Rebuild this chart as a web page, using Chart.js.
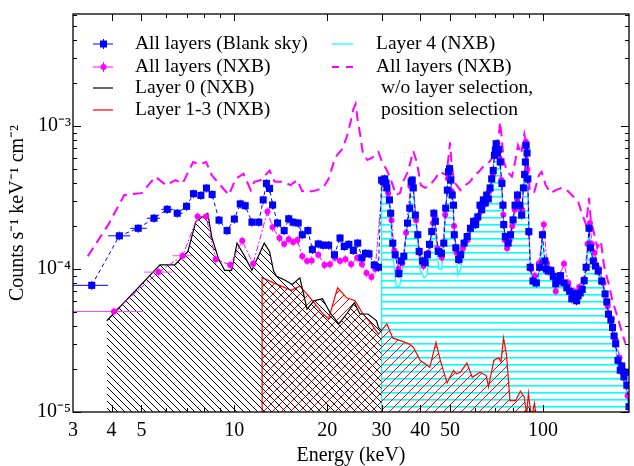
<!DOCTYPE html>
<html><head><meta charset="utf-8">
<script src="https://cdn.jsdelivr.net/npm/chart.js@4.4.1/dist/chart.umd.min.js"></script>
<style>html,body{margin:0;padding:0;background:#fff;}#wrap{position:relative;width:634px;height:466px;}</style>
</head><body><div id="wrap"><canvas id="c" width="634" height="466"></canvas></div>
<script>
// ---- tick labels ----
const xTickValues = [3,4,5,10,20,30,40,50,100];
const xMinorTicks = [6,7,8,9,60,70,80,90];
const yTickValues = [1e-5,1e-4,1e-3];
const yTickLabels = ['10\u207B\u2075','10\u207B\u2074','10\u207B\u00B3'];
const xTitle = 'Energy (keV)';
const yTitle = 'Counts s\u207B\u00B9 keV\u207B\u00B9 cm\u207B\u00B2';
const legendLabels = ['All layers (Blank sky)','All layers (NXB)','Layer 0 (NXB)','Layer 1-3 (NXB)','Layer 4 (NXB)','All layers (NXB)',' w/o layer selection,',' position selection'];

// ---- All layers (Blank sky) ----
const blueE = [3.45,4.24,4.88,5.49,6.06,6.53,7.0,7.37,7.79,8.12,8.47,8.92,9.47,10.0,10.45,10.84,11.4,12.0,12.4,12.7,13.0,13.3,13.8,14.5,15.0,15.5,16.1,16.6,17.3,17.9,18.7,19.4,20.2,21.1,22.0,22.7,23.5,24.3,25.1,25.9,26.6,27.3,28.4,29.3,
30.0,30.4,30.7,31.0,31.2,31.8,32.1,32.6,33.2,34.1,34.7,35.4,36.4,37.0,37.4,37.7,38.0,38.6,39.3,39.7,40.7,41.5,42.2,42.9,43.6,44.3,44.8,45.8,46.9,47.7,48.4,49.0,49.4,49.8,50.3,50.8,51.3,51.6,52.2,53.3,54.1,55.5,56.8,58.2,59.6,60.5,61.5,62.5,63.3,64.1,65.0,65.7,66.5,67.4,68.2,69.0,69.6,70.1,70.5,71.2,71.8,72.7,73.6,74.2,74.6,75.5,77.1,78.5,80.0,81.2,82.7,84.2,85.3,86.4,87.2,87.7,88.2,88.8,89.3,90.0,90.9,92.8,95.2,97.6,99.6,101.4,102.5,104,106,108,110,112.5,114,117,119.5,122,124,127,128.5,130,132,134,136,138,141,142.5,145.5,148,151,155,159,161,163,166,168,170,172,175,178,180,183,185,187,190];
const blueV = [7.7e-5,1.71e-4,1.93e-4,2.27e-4,2.62e-4,2.46e-4,2.75e-4,3.37e-4,3.28e-4,3.69e-4,3.33e-4,2.2e-4,1.86e-4,2.24e-4,2.86e-4,2.78e-4,2.13e-4,2.13e-4,3.05e-4,3.98e-4,3.67e-4,2.81e-4,2.1e-4,1.86e-4,2.25e-4,2.13e-4,2.1e-4,1.74e-4,1.86e-4,1.37e-4,1.5e-4,1.47e-4,1.47e-4,1.26e-4,1.65e-4,1.44e-4,1.49e-4,1.35e-4,1.52e-4,1.2e-4,1.29e-4,1.28e-4,1.07e-4,1.03e-4,
4.2e-4,4.1e-4,4.28e-4,4.0e-4,3.7e-4,3.05e-4,2.46e-4,1.52e-4,1.26e-4,9.3e-5,1.14e-4,1.23e-4,2.1e-4,2.67e-4,4.08e-4,4.2e-4,3.7e-4,2.39e-4,1.74e-4,1.33e-4,1.14e-4,1.11e-4,1.26e-4,1.49e-4,1.83e-4,2.46e-4,2.16e-4,1.33e-4,1.29e-4,1.52e-4,2.67e-4,3.57e-4,4.8e-4,5.05e-4,4.2e-4,3.3e-4,2.8e-4,1.74e-4,1.41e-4,1.17e-4,1.26e-4,1.52e-4,1.69e-4,1.93e-4,2.16e-4,2.05e-4,2.32e-4,2.8e-4,2.6e-4,3.05e-4,2.9e-4,3.3e-4,3.1e-4,3.7e-4,4.28e-4,4.9e-4,6.26e-4,6.8e-4,7.54e-4,6.5e-4,6.9e-4,5.62e-4,3.98e-4,2.8e-4,2.05e-4,1.69e-4,1.52e-4,1.74e-4,2.21e-4,2.8e-4,3.3e-4,2.8e-4,2.39e-4,3.7e-4,4.6e-4,5.62e-4,7.35e-4,6.5e-4,4.28e-4,1.83e-4,1.03e-4,8.25e-5,8.0e-5,1.03e-4,1.74e-4,1.14e-4,1.0e-4,9.7e-5,9.8e-5,8.9e-5,7.9e-5,8.25e-5,9.0e-5,8.0e-5,7.4e-5,7.0e-5,6.2e-5,6.7e-5,6.0e-5,6.5e-5,6.8e-5,7.2e-5,8.3e-5,1.03e-4,1.93e-4,1.41e-4,1.14e-4,1.05e-4,9.7e-5,8.25e-5,6.7e-5,5.9e-5,4.84e-5,4.4e-5,3.9e-5,3.4e-5,3.0e-5,2.3e-5,1.96e-5,2.1e-5,1.76e-5,1.9e-5,1.54e-5,1.09e-5];
const blueXlo = [3.0,3.9,4.6,5.2,5.8,6.35,6.8];
const blueXhi = [3.9,4.6,5.2,5.75,6.35,6.8,7.2];

// ---- All layers (NXB) ----
const nxbE = [4.07,5.68,6.8,7.6,8.1,8.7,9.7,10.6,11.5,12.8,13.3,14.0,14.5,15.0,15.5,16.0,16.6,17.2,17.8,18.7,19.6,20.4,21.2,22.0,22.9,23.9,25.0,25.9,26.8,27.8,28.6,
30.2,30.8,31.5,32.3,33.0,34.0,35.0,36.0,37.2,37.9,38.8,39.8,41.0,42.5,44.0,44.6,45.5,47.0,48.2,49.2,49.9,50.6,51.5,52.5,53.8,55.0,57,59,61,63,65,67,68.8,70,71.2,72.3,73.3,74.4,75.2,76.5,78,79.5,81,82.5,84,85.5,87,88.0,89,90,91.5,94,97,100.6,103,107,110,113,117,121,126,131,136,139.5,142,144,147,152,157,162,167,172,177,183,188];
const nxbV = [5.05e-5,9.53e-5,1.24e-4,2.33e-4,2.33e-4,1.17e-4,1.07e-4,1.58e-4,1.09e-4,2.53e-4,1.96e-4,1.65e-4,1.5e-4,1.62e-4,1.55e-4,1.6e-4,1.23e-4,1.14e-4,1.15e-4,1.26e-4,1.07e-4,1.08e-4,1.2e-4,1.14e-4,1.17e-4,1.08e-4,1.2e-4,1.08e-4,9.4e-5,8.8e-5,1.0e-4,
4.0e-4,4.1e-4,3.4e-4,2.2e-4,1.35e-4,1.0e-4,1.1e-4,1.8e-4,3.8e-4,3.9e-4,2.2e-4,1.3e-4,1.05e-4,1.3e-4,2.1e-4,2.3e-4,1.4e-4,1.2e-4,2.4e-4,4.3e-4,5.0e-4,3.5e-4,2.0e-4,1.3e-4,1.15e-4,1.4e-4,1.6e-4,2.0e-4,2.2e-4,2.6e-4,3.1e-4,3.5e-4,4.6e-4,6.6e-4,7.6e-4,6.0e-4,4.2e-4,2.4e-4,1.6e-4,1.4e-4,1.6e-4,2.0e-4,2.6e-4,3.1e-4,2.7e-4,2.6e-4,4.5e-4,7.8e-4,5.0e-4,1.8e-4,1.0e-4,9.0e-5,1.1e-4,2.05e-4,1.1e-4,9.5e-5,7.0e-5,8.8e-5,1.09e-4,8.0e-5,7.0e-5,7.5e-5,8.5e-5,1.5e-4,2.1e-4,1.5e-4,1.3e-4,1.0e-4,8.0e-5,5.5e-5,4.5e-5,3.2e-5,2.4e-5,1.8e-5,1.3e-5];
const nxbXlo = [3.0,5.1,6.3];
const nxbXhi = [5.1,6.3,7.3];

// ---- Layer 0 (NXB) ----
const layer0E = [3.86,5.74,6.41,7.07,7.5,8.2,8.46,8.9,9.3,9.8,10.2,10.8,11.4,12.5,13.0,13.4,13.7,14.6,15.4,16.3,17.2,18.1,19.3,20.4,21.8,23.1,24.5,25.5,27.1,28.9,29.3,30.0];
const layer0V = [4.35e-5,1.07e-4,1.07e-4,1.33e-4,2.15e-4,2.46e-4,1.65e-4,1.17e-4,9.8e-5,9.8e-5,1.52e-4,1.23e-4,9.8e-5,1.52e-4,1.33e-4,9.7e-5,8.9e-5,8.35e-5,7.8e-5,8.7e-5,5.25e-5,6.0e-5,6.2e-5,4.97e-5,4.13e-5,4.85e-5,5.83e-5,4.85e-5,4.85e-5,4.35e-5,3.9e-5,3.7e-5];

// ---- Layer 1-3 (NXB) ----
const layer13E = [12.3,12.3,14.0,15.3,16.3,17.4,18.5,19.4,20.2,21.6,23.1,24.6,26.1,27.8,29.3,31.2,32.6,34.5,36.8,38.0,40.0,43.0,45.0,46.5,48.9,51.3,52.5,54.0,56.7,59.0,62.5,65.5,66.6,69.3,71.9,73.1,74.5,76.2,78.2,81.5,84.5,87.0,88.5,89.7,91.8,93.8,96.0,97.0];
const layer13V = [1e-6,8.7e-5,7.7e-5,7.1e-5,7.6e-5,6.5e-5,5.5e-5,4.85e-5,4.48e-5,7.4e-5,6.3e-5,6.0e-5,4.85e-5,4.13e-5,3.5e-5,4.13e-5,3.3e-5,3.16e-5,3.0e-5,2.84e-5,2.3e-5,2.06e-5,3.08e-5,2.3e-5,1.6e-5,1.96e-5,1.85e-5,1.9e-5,2.2e-5,1.75e-5,1.9e-5,1.8e-5,1.5e-5,2.3e-5,2.4e-5,2.25e-5,3.3e-5,2.5e-5,1.2e-5,1.2e-5,1.4e-5,1.27e-5,0.95e-5,1.35e-5,0.9e-5,1.15e-5,0.8e-5,5e-6];

// ---- Layer 4 (NXB) ----
const layer4E = [30.0,30.0,30.7,31.2,31.8,32.4,33.0,33.5,34.3,35.0,36.0,37.0,37.5,38.2,39.0,40.0,41.2,42.0,43.0,44.2,45.0,46,47,48.2,49.3,50,51,52,53,54,56,58,60,62,64,66,68,70,71.5,73,74.5,76,78,80,82.5,85,87,88.2,89.5,91,93,96,99.5,102,108,115,122,130,135,138,141,145,151,156,160,165,170,175,180,185,190,192];
const layer4V = [1e-6,4.0e-4,4.2e-4,3.6e-4,2.8e-4,1.6e-4,1.0e-4,7.5e-5,7.6e-5,9.5e-5,1.7e-4,3.0e-4,4.0e-4,3.4e-4,1.8e-4,1.0e-4,8.7e-5,9.0e-5,1.3e-4,2.3e-4,1.6e-4,1.0e-4,1.0e-4,2.2e-4,4.5e-4,4.9e-4,3.0e-4,1.5e-4,9.0e-5,1.0e-4,1.4e-4,1.8e-4,2.1e-4,2.5e-4,2.9e-4,3.3e-4,4.0e-4,7.0e-4,6.8e-4,4.5e-4,2.0e-4,1.4e-4,1.6e-4,2.2e-4,3.2e-4,2.4e-4,4.5e-4,7.0e-4,3.8e-4,1.0e-4,7.5e-5,7.8e-5,1.6e-4,1.0e-4,8.5e-5,7.8e-5,6.8e-5,6.2e-5,7.0e-5,1.0e-4,1.8e-4,1.1e-4,9.2e-5,7.8e-5,6.2e-5,4.3e-5,3.2e-5,2.2e-5,1.8e-5,1.5e-5,1.0e-5,5e-6];

// ---- All layers (NXB) w/o layer selection, position selection ----
const allE = [3.35,3.9,4.4,5.0,5.55,6.0,6.45,6.8,7.35,7.7,8.1,8.45,9.0,9.6,10.1,10.7,11.3,11.6,12.2,13.0,13.5,14.4,15.2,16.0,16.6,17.2,17.8,18.5,19.4,20.2,21.0,21.5,22.4,23.2,23.8,24.3,24.7,25.1,25.6,26.1,27.0,28.2,29.3,30.1,31.0,31.9,33.4,34.4,35.2,36.5,38.0,39.0,40.2,41.5,43.0,44.7,46.3,48.7,50.0,50.5,51.5,54.0,56.0,58.0,60.0,62.0,64.5,67.0,69.4,71.8,72.6,73.4,74.7,76.7,79.3,81.2,83.0,85.0,87.0,88.5,90.6,93.5,97.0,99.0,102,106,110,115,119.5,124,130,133,138,141,143,146,150,154,158,163,168,175,185];
const allV = [1.23e-4,2.04e-4,3.3e-4,3.4e-4,4.43e-4,3.87e-4,4.2e-4,3.98e-4,5.62e-4,5.4e-4,5.62e-4,4.54e-4,3.87e-4,3.3e-4,4.28e-4,4.65e-4,3.57e-4,4.08e-4,4.2e-4,4.9e-4,4.08e-4,4.08e-4,3.87e-4,4.2e-4,3.5e-4,3.57e-4,3.5e-4,3.57e-4,3.7e-4,4.28e-4,5.62e-4,6.26e-4,6.96e-4,8.6e-4,1.07e-3,1.32e-3,1.43e-3,1.1e-3,8.6e-4,6.4e-4,5.8e-4,6.1e-4,6.6e-4,5.6e-4,5.05e-4,4.43e-4,3.3e-4,3.4e-4,4.08e-4,4.8e-4,6.7e-4,5.62e-4,3.87e-4,3.7e-4,3.87e-4,4.28e-4,4.8e-4,4.54e-4,7.7e-4,5.62e-4,4.08e-4,3.57e-4,3.87e-4,4.08e-4,4.54e-4,4.8e-4,5.3e-4,5.62e-4,6.26e-4,8.2e-4,1.07e-3,8.6e-4,5.62e-4,4.8e-4,4.43e-4,5.62e-4,7.35e-4,6.4e-4,8.8e-4,7.35e-4,3.57e-4,3.4e-4,4.54e-4,4.8e-4,3.87e-4,3.4e-4,3.57e-4,3.7e-4,3.57e-4,3.3e-4,2.97e-4,2.53e-4,2.04e-4,3.15e-4,2.16e-4,1.83e-4,1.41e-4,1.57e-4,1.03e-4,8e-5,6e-5,4.5e-5,3e-5];

const REL_ERR = 0.07;

function pts(E,V){ return E.map((e,i)=>({x:e,y:V[i]})); }

const ctx0 = document.getElementById('c').getContext('2d');
function makePattern(w,h,draw){
  const c=document.createElement('canvas'); c.width=w; c.height=h;
  const g=c.getContext('2d'); draw(g,w,h); return ctx0.createPattern(c,'repeat');
}
const hatchBlack = makePattern(7,7,(g,w,h)=>{g.strokeStyle='#000';g.lineWidth=1;g.beginPath();
  g.moveTo(-1,-1);g.lineTo(w+1,h+1);g.moveTo(-1,h-1);g.lineTo(1,h+1);g.moveTo(w-1,-1);g.lineTo(w+1,1);g.stroke();});
const hatchRed = makePattern(9,9,(g,w,h)=>{g.strokeStyle='#ff0000';g.lineWidth=1;g.beginPath();
  g.moveTo(-1,h+1);g.lineTo(w+1,-1);g.moveTo(-1,1);g.lineTo(1,-1);g.moveTo(w-1,h+1);g.lineTo(w+1,h-1);g.stroke();});
const hatchCyan = makePattern(4,7,(g,w,h)=>{g.fillStyle='#00ffff';g.fillRect(0,0,w,1.6);});

const errBars = {
  id:'errBars',
  beforeDatasetDraw(chart,args){
    const ds = chart.data.datasets[args.index];
    if(!ds.errInfo) return;
    const {ctx, chartArea:a, scales:{x,y}} = chart;
    const info = ds.errInfo;
    ctx.save();
    ctx.beginPath(); ctx.rect(a.left,a.top,a.right-a.left,a.bottom-a.top); ctx.clip();
    ctx.strokeStyle = info.color; ctx.lineWidth = 1;
    ctx.beginPath();
    ds.data.forEach((p,i)=>{
      const px=x.getPixelForValue(p.x), py=y.getPixelForValue(p.y);
      ctx.moveTo(px, y.getPixelForValue(p.y*(1+REL_ERR))); ctx.lineTo(px, y.getPixelForValue(p.y*(1-REL_ERR)));
      if(i<info.xlo.length){ ctx.moveTo(x.getPixelForValue(info.xlo[i]),py); ctx.lineTo(x.getPixelForValue(info.xhi[i]),py); }
    });
    ctx.stroke(); ctx.restore();
  }
};

const frameTicks = {
  id:'frameTicks',
  afterDraw(chart){
    const {ctx, chartArea:a, scales:{x,y}} = chart;
    ctx.save(); ctx.strokeStyle='#000'; ctx.lineWidth=1.3;
    ctx.strokeRect(a.left,a.top,a.right-a.left,a.bottom-a.top);
    ctx.lineWidth=1; ctx.beginPath();
    const xt = xTickValues.slice(1).map(v=>[v,7]).concat(xMinorTicks.map(v=>[v,4]));
    xt.forEach(([v,l])=>{const px=Math.round(x.getPixelForValue(v))+0.5;
      ctx.moveTo(px,a.bottom);ctx.lineTo(px,a.bottom-l);ctx.moveTo(px,a.top);ctx.lineTo(px,a.top+l);});
    for(let d=-5; d<=-3; d++){
      for(let m=1;m<=9;m++){
        const v=m*Math.pow(10,d); if(v>y.max) continue; if(v<y.min*0.999) continue;
        const l = m===1?8:4; const py=Math.round(y.getPixelForValue(v))+0.5;
        ctx.moveTo(a.left,py);ctx.lineTo(a.left+l,py);ctx.moveTo(a.right,py);ctx.lineTo(a.right-l,py);
      }
    }
    ctx.stroke(); ctx.restore();
  }
};

const legendDraw = {
  id:'legendDraw',
  afterDraw(chart){
    const ctx=chart.ctx; ctx.save();
    ctx.font='19.5px "Liberation Serif"'; ctx.textBaseline='middle'; ctx.fillStyle='#000';
    const rows=[44,67,88,110];
    const tx1=135, tx2=376;
    legendLabels.slice(0,4).forEach((t,i)=>ctx.fillText(t,tx1,rows[i]));
    ctx.fillText(legendLabels[4],tx2,rows[0]);
    ctx.fillText(legendLabels[5],tx2,rows[1]);
    ctx.fillText(legendLabels[6],tx2,rows[2]);
    ctx.fillText(legendLabels[7],tx2,rows[3]);
    ctx.lineWidth=1;
    ctx.strokeStyle='#0000ff'; ctx.beginPath(); ctx.moveTo(93,rows[0]); ctx.lineTo(113,rows[0]); ctx.moveTo(103.5,rows[0]-5); ctx.lineTo(103.5,rows[0]+5); ctx.stroke();
    ctx.fillStyle='#0000ff'; ctx.fillRect(100,rows[0]-3.5,7,7);
    ctx.strokeStyle='#ff00ff'; ctx.beginPath(); ctx.moveTo(93,rows[1]); ctx.lineTo(113,rows[1]); ctx.moveTo(103.5,rows[1]-5); ctx.lineTo(103.5,rows[1]+5); ctx.stroke();
    ctx.fillStyle='#ff00ff'; ctx.beginPath(); ctx.arc(103.5,rows[1],3,0,Math.PI*2); ctx.fill();
    ctx.lineWidth=1.2;
    ctx.strokeStyle='#000'; ctx.beginPath(); ctx.moveTo(93,rows[2]); ctx.lineTo(113,rows[2]); ctx.stroke();
    ctx.strokeStyle='#ff0000'; ctx.beginPath(); ctx.moveTo(93,rows[3]); ctx.lineTo(113,rows[3]); ctx.stroke();
    ctx.strokeStyle='#00ffff'; ctx.beginPath(); ctx.moveTo(332,rows[0]); ctx.lineTo(353,rows[0]); ctx.stroke();
    ctx.strokeStyle='#ff00ff'; ctx.lineWidth=2; ctx.beginPath(); ctx.moveTo(332,rows[1]); ctx.lineTo(339,rows[1]); ctx.moveTo(346,rows[1]); ctx.lineTo(353,rows[1]); ctx.stroke();
    ctx.restore();
  }
};

new Chart(ctx0, {
  type:'line',
  data:{ datasets:[
    { label:legendLabels[0], data:pts(blueE,blueV), borderColor:'#0000ff', borderWidth:1, borderDash:[4,3],
      pointStyle:'rect', pointRadius:5, pointBackgroundColor:'#0000ff', pointBorderWidth:0, fill:false, order:1,
      errInfo:{color:'#0000ff', xlo:blueXlo, xhi:blueXhi} },
    { label:legendLabels[1], data:pts(nxbE,nxbV), borderColor:'#ff00ff', borderWidth:1, borderDash:[6,2,2,2],
      pointStyle:'circle', pointRadius:3, pointBackgroundColor:'#ff00ff', pointBorderWidth:0, fill:false, order:2,
      errInfo:{color:'#ff44ff', xlo:nxbXlo, xhi:nxbXhi} },
    { label:legendLabels[5], data:pts(allE,allV), borderColor:'#ff00ff', borderWidth:2, borderDash:[10,6],
      pointRadius:0, fill:false, order:3 },
    { label:legendLabels[4], data:pts(layer4E,layer4V), borderColor:'#00ffff', borderWidth:1.2, pointRadius:0,
      fill:'start', backgroundColor:hatchCyan, order:6 },
    { label:legendLabels[3], data:pts(layer13E,layer13V), borderColor:'#ff0000', borderWidth:1.2, pointRadius:0,
      fill:'start', backgroundColor:hatchRed, order:5 },
    { label:legendLabels[2], data:pts(layer0E,layer0V), borderColor:'#000000', borderWidth:1.2, pointRadius:0,
      fill:'start', backgroundColor:hatchBlack, order:4 }
  ]},
  options:{
    responsive:false, devicePixelRatio:1, animation:false,
    layout:{padding:{top:10,right:1,left:0,bottom:0}},
    plugins:{legend:{display:false}, tooltip:{enabled:false}},
    elements:{line:{tension:0}},
    scales:{
      x:{ type:'logarithmic', min:3, max:190, position:'bottom',
        grid:{display:false, drawTicks:false, tickLength:0}, border:{display:false},
        afterBuildTicks:(s)=>{ s.ticks = xTickValues.map(v=>({value:v})); },
        afterFit:(s)=>{ s.height = 54; },
        ticks:{ autoSkip:false, maxRotation:0, padding:7, color:'#000', font:{family:'Liberation Serif', size:20},
          callback:(v)=> String(v) },
        title:{ display:true, text:xTitle, color:'#000', font:{family:'Liberation Serif', size:20, lineHeight:1}, padding:{top:0,bottom:0} }
      },
      y:{ type:'logarithmic', min:1e-5, max:6.1e-3, position:'left',
        grid:{display:false, drawTicks:false, tickLength:0}, border:{display:false},
        afterBuildTicks:(s)=>{ s.ticks = yTickValues.map(v=>({value:v})); },
        afterFit:(s)=>{ s.width = 73; },
        ticks:{ autoSkip:false, padding:2, color:'#000', font:{family:'Liberation Serif', size:20},
          callback:(v)=>{ const i=yTickValues.findIndex(t=>Math.abs(t-v)/t<1e-6); return i>=0?yTickLabels[i]:''; } },
        title:{ display:true, text:yTitle, color:'#000', font:{family:'Liberation Serif', size:20, lineHeight:1}, padding:{top:8,bottom:0} }
      }
    }
  },
  plugins:[errBars, frameTicks, legendDraw]
});
</script></body></html>
